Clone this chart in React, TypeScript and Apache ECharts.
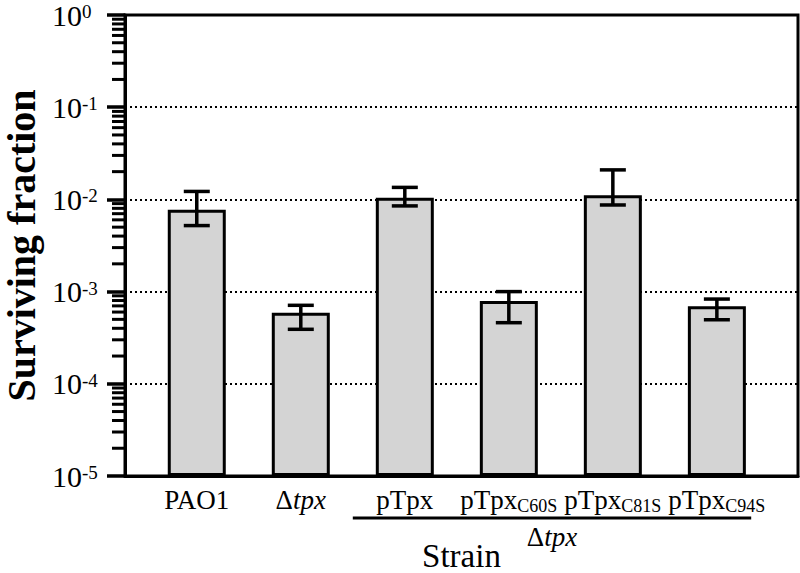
import React, { useEffect, useRef } from "react";
import * as echarts from "echarts";

// ---- Data ----
const categories = ["PAO1", "Δtpx", "pTpx", "pTpxC60S", "pTpxC81S", "pTpxC94S"];
const labelMain = ["PAO1", "Δ", "pTpx", "pTpx", "pTpx", "pTpx"];
const labelItalic = ["", "tpx", "", "", "", ""];
const labelSub = ["", "", "", "C60S", "C81S", "C94S"];
const survivingFraction = [7.7e-3, 5.9e-4, 1.04e-2, 7.9e-4, 1.11e-2, 6.95e-4];
const errorLow = [5.2e-3, 3.9e-4, 8.5e-3, 4.6e-4, 8.7e-3, 4.95e-4];
const errorHigh = [1.22e-2, 7.1e-4, 1.35e-2, 1.0e-3, 2.09e-2, 8.3e-4];
const yMin = 1e-5;
const yMax = 1;
const minorMultipliers = [2, 3, 4, 5, 6, 7, 8, 9];
const decades = [1e-5, 1e-4, 1e-3, 1e-2, 1e-1];
const groupLabel = "tpx";
const groupStartIndex = 1.5;
const groupEndIndex = 5.33;

const X_MIN = -0.69;
const X_MAX = 5.78;
const FONT = "'Liberation Serif', 'Times New Roman', serif";

export default function App() {
  const ref = useRef<HTMLDivElement>(null);

  useEffect(() => {
    if (!ref.current) return;
    const chart = echarts.init(ref.current, undefined, { renderer: "svg" });

    const minorTicks: number[] = [];
    decades.forEach((d) => minorMultipliers.forEach((m) => minorTicks.push(d * m)));

    const option: any = {
      animation: false,
      backgroundColor: "#fff",
      grid: {
        left: 125,
        right: 2,
        top: 15,
        bottom: 97,
        outerBoundsMode: "none",
        containLabel: false,
        show: true,
        borderColor: "#000",
        borderWidth: 3,
        backgroundColor: "transparent",
      },
      xAxis: {
        type: "value",
        min: X_MIN,
        max: X_MAX,
        name: "Strain",
        nameLocation: "middle",
        nameGap: 66,
        nameTextStyle: { fontFamily: FONT, fontSize: 33, lineHeight: 28, color: "#000" },
        axisLine: { show: true, onZero: false, lineStyle: { color: "#000", width: 3 } },
        axisTick: { show: false },
        splitLine: { show: false },
        axisLabel: {
          customValues: categories.map((_, i) => i),
          margin: 9,
          hideOverlap: false,
          showMinLabel: true,
          showMaxLabel: true,
          formatter: (v: number) => {
            const i = Math.round(v);
            let s = `{n|${labelMain[i]}}`;
            if (labelItalic[i]) s += `{i|${labelItalic[i]}}`;
            if (labelSub[i]) s += `{sub|${labelSub[i]}}`;
            return s;
          },
          rich: {
            n: { fontFamily: FONT, fontSize: 27, color: "#000", lineHeight: 30 },
            i: { fontFamily: FONT, fontSize: 27, fontStyle: "italic", color: "#000", lineHeight: 30 },
            sub: { fontFamily: FONT, fontSize: 18, color: "#000", lineHeight: 17, verticalAlign: "bottom" },
          },
        },
      },
      yAxis: {
        type: "log",
        logBase: 10,
        min: yMin,
        max: yMax,
        startValue: yMin,
        name: "Surviving fraction",
        nameLocation: "middle",
        nameGap: 83,
        nameTextStyle: { fontFamily: FONT, fontSize: 40, lineHeight: 38, fontWeight: "bold", color: "#000" },
        axisLine: { show: true, onZero: false, lineStyle: { color: "#000", width: 3 } },
        axisTick: { show: true, length: 18, lineStyle: { color: "#000", width: 3.5 } },
        splitLine: { show: true, lineStyle: { color: "#000", width: 2, type: [2, 3] } },
        axisLabel: {
          margin: 73,
          align: "left",
          showMinLabel: true,
          showMaxLabel: true,
          formatter: (v: number) => `{b|10}{s|${Math.round(Math.log10(v))}}`,
          rich: {
            b: { fontFamily: FONT, fontSize: 30, color: "#000", lineHeight: 26 },
            s: { fontFamily: FONT, fontSize: 19, color: "#000", lineHeight: 17, verticalAlign: "top" },
          },
        },
      },
      series: [
        {
          type: "bar",
          data: survivingFraction.map((v, i) => [i, v]),
          barWidth: 58,
          itemStyle: { color: "#d4d4d4", borderColor: "#000", borderWidth: 3 },
          z: 2,
        },
        {
          type: "custom",
          z: 3,
          data: survivingFraction.map((_, i) => [i, errorLow[i], errorHigh[i]]),
          renderItem: (params: any, api: any) => {
            const x = api.value(0);
            const lo = api.coord([x, api.value(1)]);
            const hi = api.coord([x, api.value(2)]);
            const half = 13;
            const st = { stroke: "#000", lineWidth: 3.5 };
            return {
              type: "group",
              children: [
                { type: "line", shape: { x1: hi[0], y1: hi[1], x2: lo[0], y2: lo[1] }, style: st },
                { type: "line", shape: { x1: hi[0] - half, y1: hi[1], x2: hi[0] + half, y2: hi[1] }, style: st },
                { type: "line", shape: { x1: lo[0] - half, y1: lo[1], x2: lo[0] + half, y2: lo[1] }, style: st },
              ],
            };
          },
        },
        {
          type: "custom",
          z: 4,
          clip: false,
          silent: true,
          data: minorTicks.map((v) => [X_MIN, v]),
          renderItem: (params: any, api: any) => {
            const p = api.coord([api.value(0), api.value(1)]);
            return {
              type: "line",
              shape: { x1: p[0] - 13, y1: p[1], x2: p[0], y2: p[1] },
              style: { stroke: "#000", lineWidth: 3 },
            };
          },
        },
      ],
    };

    chart.setOption(option);

    const xL = chart.convertToPixel({ xAxisIndex: 0 }, groupStartIndex) as number;
    const xR = chart.convertToPixel({ xAxisIndex: 0 }, groupEndIndex) as number;
    chart.setOption({
      graphic: [
        {
          type: "line",
          shape: { x1: xL, y1: 518, x2: xR, y2: 518 },
          style: { stroke: "#000", lineWidth: 3 },
        },
        {
          type: "text",
          x: (xL + xR) / 2,
          y: 537,
          style: {
            text: `{n|Δ}{i|${groupLabel}}`,
            align: "center",
            verticalAlign: "middle",
            rich: {
              n: { fontFamily: FONT, fontSize: 27, fill: "#000" },
              i: { fontFamily: FONT, fontSize: 27, fontStyle: "italic", fill: "#000" },
            },
          },
        },
      ],
    });

    return () => chart.dispose();
  }, []);

  return <div ref={ref} style={{ width: 800, height: 573, position: "absolute", left: 0, top: 0 }} />;
}
